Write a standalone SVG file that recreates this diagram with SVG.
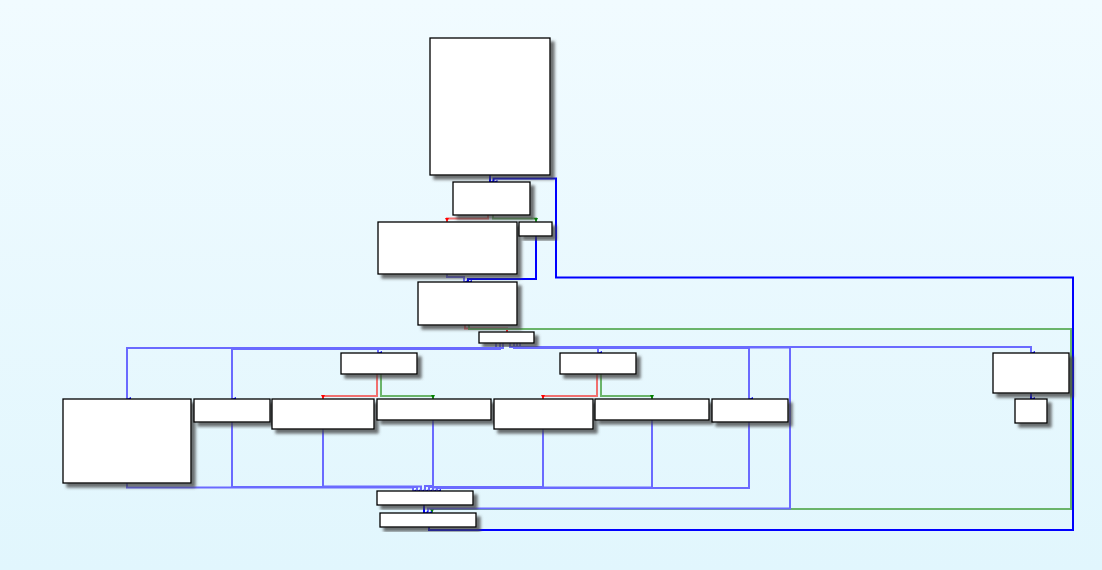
<svg xmlns="http://www.w3.org/2000/svg" width="1102" height="570" viewBox="0 0 1102 570">
<defs>
<linearGradient id="bg" x1="0" y1="0" x2="0" y2="1">
<stop offset="0" stop-color="#f1fbff"/>
<stop offset="1" stop-color="#e1f6fd"/>
</linearGradient>
<filter id="sh" x="-20%" y="-20%" width="150%" height="150%">
<feDropShadow dx="4" dy="4" stdDeviation="1.6" flood-color="#404040" flood-opacity="0.75"/>
</filter>
<marker id="ab" viewBox="0 0 4 4" refX="2" refY="4" markerWidth="4" markerHeight="4" orient="auto-start-reverse" markerUnits="userSpaceOnUse">
<path d="M0,0 L4,0 L2,4 Z" fill="#0000ff"/>
</marker>
<marker id="ar" viewBox="0 0 4 4" refX="2" refY="4" markerWidth="4" markerHeight="4" markerUnits="userSpaceOnUse">
<path d="M0,0 L4,0 L2,4 Z" fill="#ff0000"/>
</marker>
<marker id="ag" viewBox="0 0 4 4" refX="2" refY="4" markerWidth="4" markerHeight="4" markerUnits="userSpaceOnUse">
<path d="M0,0 L4,0 L2,4 Z" fill="#008000"/>
</marker>
</defs>
<style>
.n{fill:#ffffff;stroke:#000000;stroke-width:1.3;filter:url(#sh)}
.e{fill:none;stroke-width:2}
.b{stroke:#0000ff}
.s{stroke:#6a6aff;stroke-width:2}
.r{stroke:#f07070}
.g{stroke:#6ab46a}
.e.b,.e.s{marker-end:url(#ab)}
.e.r{marker-end:url(#ar)}
.e.g{marker-end:url(#ag)}
</style>
<rect width="1102" height="570" fill="url(#bg)"/>
<g id="edges">
<path class="e b" d="M490,175 V182"/>
<path class="e b" d="M429,527 V530 H1073 V277.5 H556 V178.5 H493.5 V182"/>
<path class="e r" d="M488,215 V218.5 H447 V222"/>
<path class="e g" d="M493,215 V218.5 H536 V222"/>
<path class="e b" d="M536,236 V279 H468 V282"/>
<path class="e s" d="M447,274 V277 H464 V282"/>
<path class="e r" d="M465,325 V328.5 H507 V332"/>
<path class="e g" d="M469,325 V329 H1071 V509 H432 V513"/>
<path class="e s" d="M496,343 V348 H127 V399"/>
<path class="e s" d="M500,343 V349 H232 V399"/>
<path class="e s" d="M503,343 V348 H378 V353"/>
<path class="e s" d="M510,343 V347 H1031 V353"/>
<path class="e s" d="M514,343 V348 H598 V353"/>
<path class="e s" d="M517,343 V348 H749 V399"/>
<path class="e s" d="M520,343 V347.5 H790 V508.5 H428 V513"/>
<path class="e r" d="M377,374 V396 H323 V399"/>
<path class="e g" d="M381,374 V396 H433 V399"/>
<path class="e r" d="M597,374 V396 H543 V399"/>
<path class="e g" d="M601,374 V396 H652 V399"/>
<path class="e b" d="M1031,393 V399"/>
<path class="e s" d="M127,483 V487.5 H413 V491"/>
<path class="e s" d="M232,422 V487 H417 V491"/>
<path class="e s" d="M323,429 V486.5 H421 V491"/>
<path class="e s" d="M433,420 V486 H425 V491"/>
<path class="e s" d="M543,429 V487 H429 V491"/>
<path class="e s" d="M652,420 V487.5 H433 V491"/>
<path class="e s" d="M749,422 V488 H437 V491"/>
<path class="e b" d="M424,505 V513"/>
</g>
<g id="n1"><rect class="n" x="430" y="38" width="120" height="137"/></g>
<g id="n2"><rect class="n" x="453" y="182" width="77" height="33"/></g>
<g id="n3"><rect class="n" x="378" y="222" width="139" height="52"/></g>
<g id="n4"><rect class="n" x="519" y="222" width="33" height="14"/></g>
<g id="n5"><rect class="n" x="418" y="282" width="99" height="43"/></g>
<g id="n6"><rect class="n" x="479" y="332" width="55" height="11"/></g>
<g id="n7"><rect class="n" x="341" y="353" width="76" height="21"/></g>
<g id="n8"><rect class="n" x="560" y="353" width="76" height="21"/></g>
<g id="n9"><rect class="n" x="993" y="353" width="76" height="40"/></g>
<g id="n10"><rect class="n" x="1015" y="399" width="32" height="24"/></g>
<g id="n11"><rect class="n" x="63" y="399" width="128" height="84"/></g>
<g id="n12"><rect class="n" x="194" y="399" width="76" height="23"/></g>
<g id="n13"><rect class="n" x="272" y="399" width="102" height="30"/></g>
<g id="n14"><rect class="n" x="377" y="399" width="114" height="21"/></g>
<g id="n15"><rect class="n" x="494" y="399" width="99" height="30"/></g>
<g id="n16"><rect class="n" x="595" y="399" width="114" height="21"/></g>
<g id="n17"><rect class="n" x="712" y="399" width="76" height="23"/></g>
<g id="n18"><rect class="n" x="377" y="491" width="96" height="14"/></g>
<g id="n19"><rect class="n" x="380" y="513" width="96" height="14"/></g>
</svg>
